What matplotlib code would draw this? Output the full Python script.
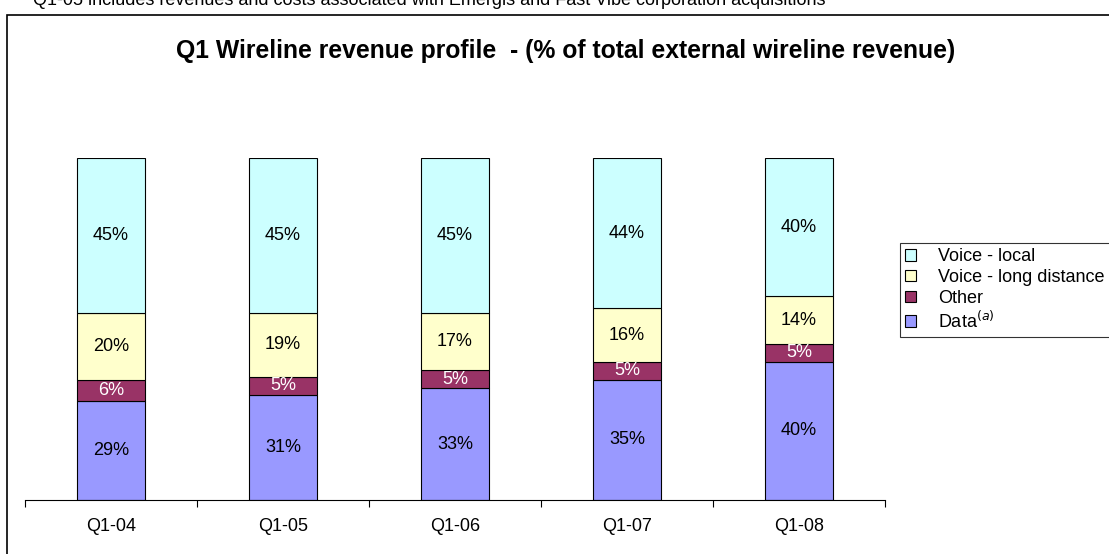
import matplotlib.pyplot as plt
from matplotlib.patches import Rectangle
import numpy as np

plt.rcParams['font.family'] = ['Liberation Sans', 'DejaVu Sans']

quarters = ['Q1-04', 'Q1-05', 'Q1-06', 'Q1-07', 'Q1-08']
data = [28.9, 30.7, 32.7, 35.1, 40.4]
other = [6.1, 5.3, 5.3, 5.3, 5.2]
long_distance = [19.7, 18.7, 16.7, 15.6, 14.0]
local = [45.3, 45.3, 45.3, 44.0, 40.4]
data_labels = ['29%', '31%', '33%', '35%', '40%']
other_labels = ['6%', '5%', '5%', '5%', '5%']
ld_labels = ['20%', '19%', '17%', '16%', '14%']
local_labels = ['45%', '45%', '45%', '44%', '40%']

fig = plt.figure(figsize=(11.09, 5.54), dpi=100)
# outer chart frame
fig.patches.append(Rectangle((7 / 1109, -0.01), 1.1, 1 - 15 / 554 + 0.01,
                             transform=fig.transFigure, fill=False,
                             edgecolor='black', linewidth=1.2))
# footnote, clipped at the top edge as in the source
fig.text(33 / 1109, 1 - 5 / 554, 'Q1-05 includes revenues and costs associated with Emergis and Fast Vibe corporation acquisitions',
         fontsize=13, va='baseline', ha='left')

ax = fig.add_axes([25 / 1109, 54 / 554, 860 / 1109, 342 / 554])
x = np.arange(len(quarters))
w = 0.4
series = [
    (data, data_labels, '#9999ff', 'black'),
    (other, other_labels, '#993366', 'white'),
    (long_distance, ld_labels, '#ffffcc', 'black'),
    (local, local_labels, '#ccffff', 'black'),
]
bottom = np.zeros(len(quarters))
handles = []
for vals, labels, color, tcolor in series:
    bars = ax.bar(x, vals, w, bottom=bottom, color=color, edgecolor='black', linewidth=0.8)
    handles.append(bars)
    ax.bar_label(bars, labels=labels, label_type='center', color=tcolor, fontsize=13)
    bottom += np.array(vals)

ax.set_xlim(-0.5, len(quarters) - 0.5)
ax.set_ylim(0, 100)
for s in ['left', 'right', 'top']:
    ax.spines[s].set_visible(False)
ax.spines['bottom'].set_linewidth(0.8)
ax.set_yticks([])
ax.set_xticks(x)
ax.set_xticklabels(quarters, fontsize=13)
ax.set_xticks(np.arange(len(quarters) + 1) - 0.5, minor=True)
ax.tick_params(axis='x', which='major', length=0, pad=13)
ax.tick_params(axis='x', which='minor', length=5, width=0.8)

fig.text(566 / 1109, 1 - 51 / 554, 'Q1 Wireline revenue profile  - (% of total external wireline revenue)',
         fontsize=17.8, fontweight='bold', ha='center', va='center')

names = ['Voice - local', 'Voice - long distance', 'Other', 'Data$^{(a)}$']
leg = fig.legend(handles[::-1], names, loc='upper left', bbox_to_anchor=(900 / 1109, 1 - 243 / 554),
                 fontsize=13, frameon=True, fancybox=False, edgecolor='black',
                 handlelength=0.6, handleheight=0.6, labelspacing=0.2, borderpad=0.3,
                 handletextpad=1.2, borderaxespad=0)
leg.get_frame().set_linewidth(0.8)

plt.savefig('out.png', dpi=100)
